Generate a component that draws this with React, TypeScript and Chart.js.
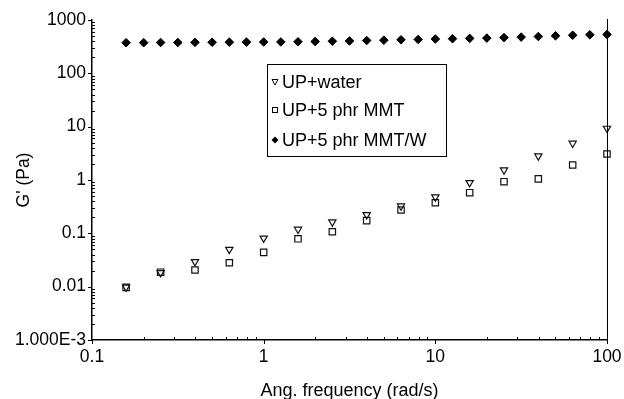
import React, { useEffect, useRef } from "react";
import { Chart, registerables } from "chart.js";

Chart.register(...registerables);

const FONT = "'Liberation Sans', Arial, Helvetica, sans-serif";

// Angular frequency (rad/s), 5 points per decade
const freq5 = [0.158, 0.251, 0.398, 0.631, 1, 1.585, 2.512, 3.981, 6.31, 10, 15.85, 25.12, 39.81, 63.1, 100];
// Angular frequency (rad/s), 10 points per decade
const freq10 = [
  0.158, 0.2, 0.251, 0.316, 0.398, 0.501, 0.631, 0.794, 1, 1.259, 1.585, 1.995, 2.512, 3.162, 3.981,
  5.012, 6.31, 7.943, 10, 12.59, 15.85, 19.95, 25.12, 31.62, 39.81, 50.12, 63.1, 79.43, 100,
];

const seriesNames = ["UP+water", "UP+5 phr MMT", "UP+5 phr MMT/W"];

const upWater = [0.0098, 0.0183, 0.0294, 0.05, 0.081, 0.119, 0.163, 0.223, 0.325, 0.48, 0.89, 1.54, 2.82, 4.88, 9.3];
const upMMT = [0.0097, 0.0187, 0.0205, 0.0281, 0.044, 0.079, 0.107, 0.173, 0.274, 0.375, 0.578, 0.93, 1.05, 1.91, 3.07];
const upMMTW = [
  375, 376, 378, 379, 381, 382, 384, 385, 387, 388, 390, 395, 400, 405, 412, 418, 425, 432, 440, 446,
  452, 458, 468, 478, 490, 505, 518, 528, 535,
];

const xTickValues = [0.1, 1, 10, 100];
const xTickLabels = ["0.1", "1", "10", "100"];
const yTickValues = [0.001, 0.01, 0.1, 1, 10, 100, 1000];
const yTickLabels = ["1.000E-3", "0.01", "0.1", "1", "10", "100", "1000"];

function labelFor(value: number, vals: number[], labels: string[]) {
  for (let i = 0; i < vals.length; i++) {
    if (Math.abs(Math.log10(value) - Math.log10(vals[i])) < 1e-6) return labels[i];
  }
  return null;
}

const axisDecor = {
  id: "axisDecor",
  afterDraw(chart: any) {
    const ctx = chart.ctx;
    const { left, right, top, bottom } = chart.chartArea;
    const xs = chart.scales.x;
    const ys = chart.scales.y;
    ctx.save();
    ctx.strokeStyle = "#000";
    ctx.lineWidth = 1;
    // right border
    ctx.beginPath();
    ctx.moveTo(right + 0.5, top - 1);
    ctx.lineTo(right + 0.5, bottom);
    ctx.stroke();
    // y ticks
    for (let d = -3; d <= 3; d++) {
      const major = Math.pow(10, d);
      const py = Math.round(ys.getPixelForValue(major)) + 0.5;
      ctx.beginPath();
      ctx.moveTo(left - 4, py);
      ctx.lineTo(left, py);
      ctx.stroke();
      if (d < 3) {
        for (let k = 2; k <= 9; k++) {
          const my = Math.round(ys.getPixelForValue(k * major)) + 0.5;
          ctx.beginPath();
          ctx.moveTo(left, my);
          ctx.lineTo(left + 3, my);
          ctx.stroke();
        }
      }
    }
    // x ticks
    for (let d = -1; d <= 2; d++) {
      const major = Math.pow(10, d);
      const px = Math.round(xs.getPixelForValue(major)) + 0.5;
      ctx.beginPath();
      ctx.moveTo(px, bottom);
      ctx.lineTo(px, bottom + 4);
      ctx.stroke();
      if (d < 2) {
        for (let k = 2; k <= 9; k++) {
          const mx = Math.round(xs.getPixelForValue(k * major)) + 0.5;
          ctx.beginPath();
          ctx.moveTo(mx, bottom);
          ctx.lineTo(mx, bottom - 3);
          ctx.stroke();
        }
      }
    }
    // legend
    const bx = 267, by = 64, bw = 179, bh = 92;
    ctx.fillStyle = "#fff";
    ctx.fillRect(bx, by, bw, bh);
    ctx.lineWidth = 1;
    ctx.strokeRect(bx + 0.5, by + 0.5, bw, bh);
    const rows = [82, 110, 140];
    ctx.font = `18px ${FONT}`;
    ctx.textBaseline = "middle";
    ctx.textAlign = "left";
    rows.forEach((ry, i) => {
      const sx = 275;
      ctx.lineWidth = 1;
      ctx.strokeStyle = "#000";
      ctx.fillStyle = "#000";
      if (i === 0) {
        ctx.beginPath();
        ctx.moveTo(sx - 3, ry - 2.5);
        ctx.lineTo(sx + 3, ry - 2.5);
        ctx.lineTo(sx, ry + 3);
        ctx.closePath();
        ctx.stroke();
      } else if (i === 1) {
        ctx.strokeRect(sx - 2.5, ry - 2.5, 5, 5);
      } else {
        ctx.beginPath();
        ctx.moveTo(sx, ry - 3.5);
        ctx.lineTo(sx + 3.5, ry);
        ctx.lineTo(sx, ry + 3.5);
        ctx.lineTo(sx - 3.5, ry);
        ctx.closePath();
        ctx.fill();
      }
      ctx.fillText(seriesNames[i], 282, ry + 1);
    });
    ctx.restore();
  },
};

export default function App() {
  const ref = useRef<HTMLCanvasElement | null>(null);
  useEffect(() => {
    if (!ref.current) return;
    const chart = new Chart(ref.current, {
      type: "scatter",
      data: {
        datasets: [
          {
            label: seriesNames[0],
            data: freq5.map((x, i) => ({ x, y: upWater[i] })),
            pointStyle: "triangle",
            rotation: 180,
            radius: 4.2,
            borderColor: "#111",
            backgroundColor: "rgba(255,255,255,0)",
            borderWidth: 1.2,
            clip: false,
          } as any,
          {
            label: seriesNames[1],
            data: freq5.map((x, i) => ({ x, y: upMMT[i] })),
            pointStyle: "rect",
            radius: 4.5,
            borderColor: "#111",
            backgroundColor: "rgba(255,255,255,0)",
            borderWidth: 1.2,
            clip: false,
          } as any,
          {
            label: seriesNames[2],
            data: freq10.map((x, i) => ({ x, y: upMMTW[i] })),
            pointStyle: "rectRot",
            radius: 4.3,
            borderColor: "#000",
            backgroundColor: "#000",
            borderWidth: 1,
            clip: false,
          } as any,
        ],
      },
      options: {
        animation: false,
        responsive: false,
        devicePixelRatio: 1,
        events: [],
        layout: { padding: { top: 20, right: 17, left: 0, bottom: 0 } },
        plugins: { legend: { display: false }, tooltip: { enabled: false } },
        scales: {
          x: {
            type: "logarithmic",
            min: 0.1,
            max: 100,
            position: "bottom",
            afterFit: (s: any) => {
              s.height = 59;
              s.paddingLeft = 0;
              s.paddingRight = 0;
            },
            grid: { display: false, drawTicks: false },
            border: { display: true, color: "#000", width: 1.5 },
            ticks: {
              autoSkip: false,
              maxRotation: 0,
              minRotation: 0,
              padding: 7,
              color: "#000",
              font: { family: FONT, size: 17.5 },
              callback: (v: any) => labelFor(Number(v), xTickValues, xTickLabels),
            },
            title: {
              display: true,
              text: "Ang. frequency (rad/s)",
              color: "#000",
              font: { family: FONT, size: 18, lineHeight: 0.85 },
              padding: { top: 0, bottom: 0 },
            },
          },
          y: {
            type: "logarithmic",
            min: 0.001,
            max: 1000,
            position: "left",
            afterFit: (s: any) => {
              s.width = 92;
              s.paddingTop = 0;
              s.paddingBottom = 0;
            },
            grid: { display: false, drawTicks: false },
            border: { display: true, color: "#000", width: 1.5 },
            ticks: {
              autoSkip: false,
              padding: 6,
              color: "#000",
              font: { family: FONT, size: 17.5 },
              callback: (v: any) => labelFor(Number(v), yTickValues, yTickLabels),
            },
            title: {
              display: true,
              text: "G' (Pa)",
              color: "#000",
              font: { family: FONT, size: 17.5, lineHeight: 1 },
              padding: { top: 15, bottom: 0 },
            },
          },
        },
      },
      plugins: [axisDecor],
    } as any);
    return () => chart.destroy();
  }, []);
  return (
    <div style={{ position: "fixed", left: 0, top: 0, width: 624, height: 399, background: "#fff" }}>
      <canvas ref={ref} width={624} height={399} style={{ display: "block" }} />
    </div>
  );
}
